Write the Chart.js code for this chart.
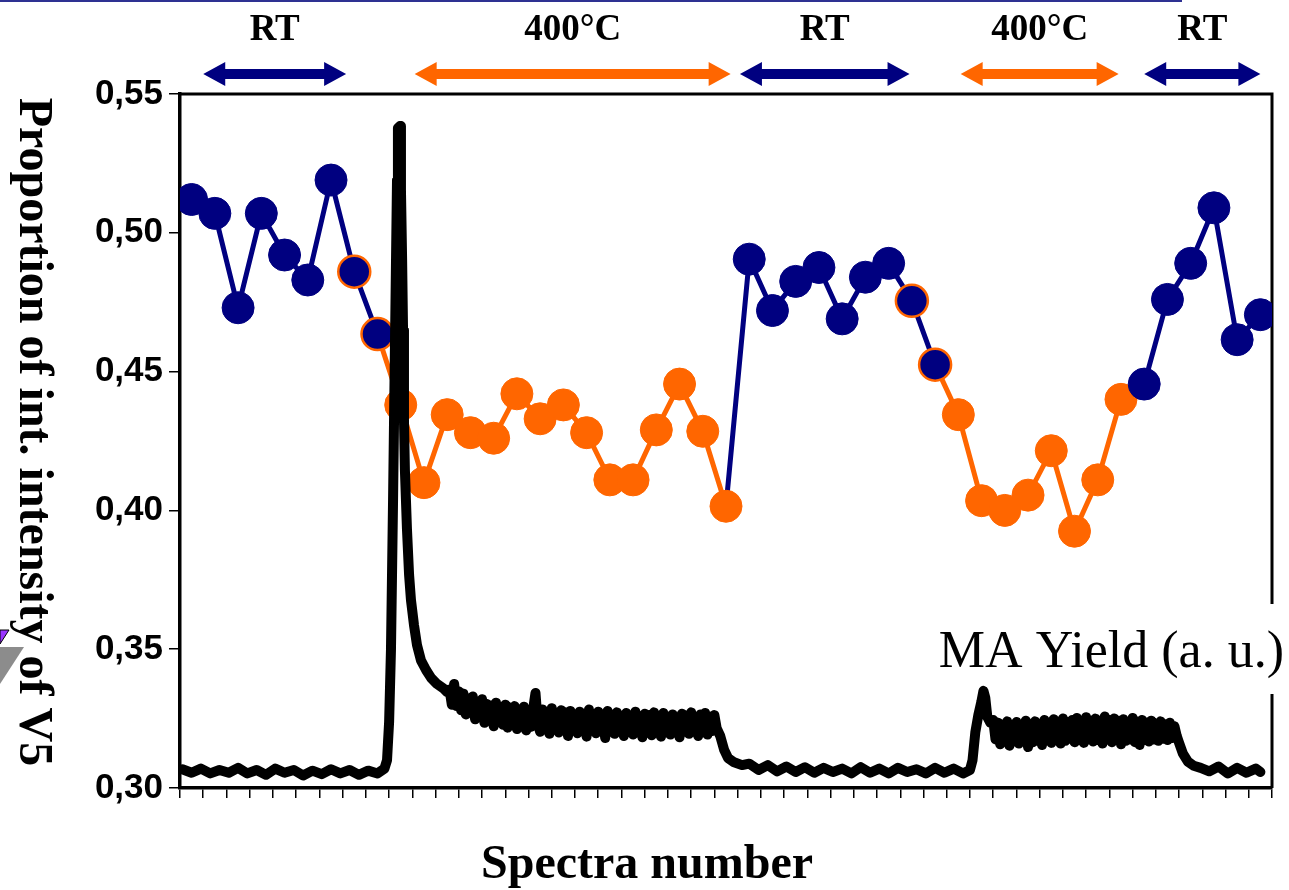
<!DOCTYPE html>
<html>
<head>
<meta charset="utf-8">
<script src="https://cdn.jsdelivr.net/npm/chart.js@4.4.1/dist/chart.umd.min.js"></script>
<style>
  html, body { margin: 0; padding: 0; background: #fff; }
  #wrap { width: 1289px; height: 890px; }
</style>
</head>
<body>
<div id="wrap"><canvas id="chart" width="1289" height="890"></canvas></div>
<script>
const NAVY = '#000080';
const ORANGE = '#ff6600';

// spectra and proportion of integrated intensity of V5
const spectra = [1, 2, 3, 4, 5, 6, 7, 8, 9, 10, 11, 12, 13, 14, 15, 16, 17, 18, 19, 20, 21, 22, 23, 24,
  25, 26, 27, 28, 29, 30, 31, 32, 33, 34, 35, 36, 37, 38, 39, 40, 41, 42, 43, 44, 45, 46, 47];
const proportion = [0.512, 0.507, 0.473, 0.507, 0.492, 0.483, 0.519, 0.486, 0.4635,
  0.438, 0.410, 0.4345, 0.428, 0.426, 0.442, 0.433, 0.438, 0.428, 0.411, 0.411, 0.429, 0.4455, 0.4285, 0.4015,
  0.4905, 0.472, 0.4825, 0.4875, 0.469, 0.484, 0.489, 0.4755, 0.4525,
  0.4345, 0.4035, 0.400, 0.4055, 0.4215, 0.3925, 0.411, 0.440,
  0.4455, 0.476, 0.489, 0.509, 0.4615, 0.4705];
const condition = ['RT', 'RT', 'RT', 'RT', 'RT', 'RT', 'RT', 'RT', 'RT',
  '400', '400', '400', '400', '400', '400', '400', '400', '400', '400', '400', '400', '400', '400', '400',
  'RT', 'RT', 'RT', 'RT', 'RT', 'RT', 'RT', 'RT', 'RT',
  '400', '400', '400', '400', '400', '400', '400', '400',
  'RT', 'RT', 'RT', 'RT', 'RT', 'RT'];
const outlined = [8, 9, 32, 33];

// MA yield trace (a. u.), position in spectra number
const maSpectrum = [
  0.6, 1.0, 1.4, 1.8, 2.2, 2.6, 3.0, 3.4, 3.8, 4.2, 4.6, 5.0, 5.4, 5.8, 6.2, 6.6, 7.0, 7.4, 7.8, 8.2, 8.6, 9.0, 9.3,
  9.41, 9.50, 9.58, 9.67, 9.76, 9.84, 9.88, 9.97, 10.01, 10.06, 10.10, 10.14, 10.18, 10.27, 10.36, 10.44, 10.57, 10.70, 10.87, 11.09, 11.30, 11.56, 11.82, 12.0,
  12.1, 12.2, 12.3, 12.4, 12.5, 12.6, 12.7, 12.8, 12.9, 13.0,
  13.1, 13.2, 13.3, 13.4, 13.5, 13.6, 13.7, 13.8, 13.9, 14.0,
  14.1, 14.2, 14.3, 14.4, 14.5, 14.6, 14.7, 14.8, 14.9, 15.0,
  15.1, 15.2, 15.3, 15.4, 15.5, 15.6, 15.7, 15.8, 15.9, 16.0,
  16.1, 16.2, 16.3, 16.4, 16.5, 16.6, 16.7, 16.8, 16.9, 17.0,
  17.1, 17.2, 17.3, 17.4, 17.5, 17.6, 17.7, 17.8, 17.9, 18.0,
  18.1, 18.2, 18.3, 18.4, 18.5, 18.6, 18.7, 18.8, 18.9, 19.0,
  19.1, 19.2, 19.3, 19.4, 19.5, 19.6, 19.7, 19.8, 19.9, 20.0,
  20.1, 20.2, 20.3, 20.4, 20.5, 20.6, 20.7, 20.8, 20.9, 21.0,
  21.1, 21.2, 21.3, 21.4, 21.5, 21.6, 21.7, 21.8, 21.9, 22.0,
  22.1, 22.2, 22.3, 22.4, 22.5, 22.6, 22.7, 22.8, 22.9, 23.0,
  23.1, 23.2, 23.3, 23.4, 23.5, 23.6,
  23.75, 23.92, 24.09, 24.35, 24.69,
  25.0, 25.4, 25.8, 26.2, 26.6, 27.0, 27.4, 27.8, 28.2, 28.6, 29.0, 29.4, 29.8, 30.2, 30.6, 31.0, 31.4, 31.8, 32.2, 32.6, 33.0, 33.4, 33.8, 34.2, 34.5,
  34.61, 34.73, 34.86, 34.99, 35.08, 35.16, 35.25, 35.38,
  35.5, 35.6, 35.7, 35.8, 35.9, 36.0, 36.1, 36.2, 36.3, 36.4,
  36.5, 36.6, 36.7, 36.8, 36.9, 37.0, 37.1, 37.2, 37.3, 37.4,
  37.5, 37.6, 37.7, 37.8, 37.9, 38.0, 38.1, 38.2, 38.3, 38.4,
  38.5, 38.6, 38.7, 38.8, 38.9, 39.0, 39.1, 39.2, 39.3, 39.4,
  39.5, 39.6, 39.7, 39.8, 39.9, 40.0, 40.1, 40.2, 40.3, 40.4,
  40.5, 40.6, 40.7, 40.8, 40.9, 41.0, 41.1, 41.2, 41.3, 41.4,
  41.5, 41.6, 41.7, 41.8, 41.9, 42.0, 42.1, 42.2, 42.3, 42.4,
  42.5, 42.6, 42.7, 42.8, 42.9, 43.0, 43.1, 43.2, 43.3, 43.4,
  43.49, 43.66, 43.88, 44.13, 44.43,
  44.8, 45.2, 45.6, 46.0, 46.4, 46.8, 47.0];
const maYield = [
  2.7, 2.2, 2.8, 2.1, 2.6, 2.2, 2.9, 2.1, 2.6, 1.9, 2.8, 2.2, 2.6, 1.8, 2.5, 2.0, 2.7, 2.1, 2.6, 1.9, 2.5, 2.1, 2.8,
  4.0, 9.5, 19.9, 41.5, 66.0, 87.6, 95.1, 95.4, 86.2, 76.1, 66.0, 53.0, 45.8, 37.2, 30.7, 27.1, 23.5, 20.6, 18.4, 17.0, 15.9, 15.0, 14.4, 13.8,
  14.2, 12.0, 15.0, 11.8, 13.9, 11.2, 13.6, 10.6, 12.9, 10.9,
  13.2, 9.9, 12.4, 10.2, 12.8, 9.4, 12.1, 10.0, 11.9, 8.9,
  12.3, 9.6, 11.4, 9.1, 12.0, 8.7, 11.6, 9.3, 11.8, 8.5,
  11.2, 9.0, 11.7, 8.3, 10.9, 8.8, 11.4, 13.7, 9.2, 8.1,
  11.3, 8.7, 10.8, 7.8, 11.5, 8.6, 10.6, 8.0, 11.2, 8.4,
  10.9, 7.5, 11.1, 8.5, 10.4, 7.9, 11.0, 8.2, 10.7, 7.4,
  11.3, 8.6, 10.5, 7.9, 11.0, 8.3, 10.3, 7.2, 11.1, 8.4,
  10.6, 7.8, 10.9, 8.1, 10.2, 7.5, 10.8, 8.3, 10.4, 7.7,
  11.0, 8.0, 10.1, 7.3, 10.7, 8.2, 10.5, 7.6, 10.9, 8.1,
  10.2, 7.4, 10.8, 8.0, 10.3, 7.7, 10.6, 8.3, 10.0, 7.3,
  10.7, 8.1, 10.4, 7.8, 10.9, 8.2, 10.1, 7.5, 10.6, 8.0,
  10.8, 7.7, 10.3, 8.2, 10.5, 8.6,
  7.5, 5.5, 4.3, 3.7, 3.3,
  3.5, 2.6, 3.3, 2.4, 3.1, 2.3, 3.0, 2.2, 2.9, 2.3, 2.8, 2.1, 3.0, 2.2, 2.8, 2.1, 2.9, 2.3, 2.7, 2.1, 2.9, 2.2, 2.8, 2.1, 2.6,
  4.0, 8.0, 10.5, 12.4, 14.0, 13.0, 10.2, 9.4,
  9.8, 7.0, 9.4, 6.3, 9.1, 6.8, 9.6, 6.1, 9.0, 6.7,
  9.5, 6.4, 8.9, 7.1, 9.7, 5.9, 9.2, 6.6, 9.6, 6.8,
  9.0, 6.2, 9.8, 6.9, 9.3, 6.5, 9.9, 7.0, 9.4, 6.4,
  10.0, 6.8, 9.5, 7.1, 9.8, 6.6, 10.1, 6.9, 9.6, 6.5,
  10.2, 7.0, 9.7, 6.7, 10.0, 6.9, 9.6, 6.4, 10.3, 7.1,
  9.8, 6.6, 10.0, 6.9, 9.7, 6.3, 9.9, 6.8, 9.5, 7.0,
  10.1, 6.6, 9.6, 6.2, 9.8, 6.9, 9.4, 6.7, 9.7, 7.0,
  9.3, 6.8, 9.6, 7.1, 9.2, 6.9, 9.4, 7.2, 8.9, 7.5,
  6.6, 5.0, 3.8, 3.2, 2.9,
  2.4, 3.1, 2.1, 2.9, 2.2, 2.8, 2.3];

// phases marked along the top
const phaseLabels = ['RT', '400°C', 'RT', '400°C', 'RT'];
const phaseFrom = [1.5, 10.6, 24.6, 34.1, 42.0];
const phaseTo = [7.65, 24.2, 31.9, 40.9, 47.0];

const yTicks = [0.30, 0.35, 0.40, 0.45, 0.50, 0.55];
const xEdges = [0.5, 1.5, 2.5, 3.5, 4.5, 5.5, 6.5, 7.5, 8.5, 9.5, 10.5, 11.5, 12.5, 13.5, 14.5, 15.5,
  16.5, 17.5, 18.5, 19.5, 20.5, 21.5, 22.5, 23.5, 24.5, 25.5, 26.5, 27.5, 28.5, 29.5, 30.5, 31.5,
  32.5, 33.5, 34.5, 35.5, 36.5, 37.5, 38.5, 39.5, 40.5, 41.5, 42.5, 43.5, 44.5, 45.5, 46.5, 47.5];

function arrow(ctx, x0, x1, y, color) {
  const head = 22, half = 12, shaft = 5;
  ctx.fillStyle = color;
  ctx.beginPath();
  ctx.moveTo(x0, y);
  ctx.lineTo(x0 + head, y - half);
  ctx.lineTo(x0 + head, y - shaft);
  ctx.lineTo(x1 - head, y - shaft);
  ctx.lineTo(x1 - head, y - half);
  ctx.lineTo(x1, y);
  ctx.lineTo(x1 - head, y + half);
  ctx.lineTo(x1 - head, y + shaft);
  ctx.lineTo(x0 + head, y + shaft);
  ctx.lineTo(x0 + head, y + half);
  ctx.closePath();
  ctx.fill();
}

const decor = {
  id: 'decor',
  beforeDraw(chart) {
    const ctx = chart.ctx;
    ctx.save();
    ctx.fillStyle = '#fff';
    ctx.fillRect(0, 0, chart.width, chart.height);
    ctx.restore();
  },
  beforeDatasetsDraw(chart) {
    const { ctx, chartArea: a } = chart;
    ctx.save();
    ctx.strokeStyle = '#000';
    ctx.lineWidth = 3;
    ctx.beginPath();
    ctx.moveTo(a.left, a.top);
    ctx.lineTo(a.right, a.top);
    ctx.lineTo(a.right, a.bottom);
    ctx.stroke();
    ctx.fillStyle = '#fff';
    ctx.fillRect(924, 604, 365, 90);
    ctx.fillStyle = '#000';
    ctx.font = '52px "Liberation Serif"';
    ctx.textAlign = 'right';
    ctx.textBaseline = 'alphabetic';
    ctx.fillText('MA Yield (a. u.)', 1284, 667);
    ctx.restore();
  },
  afterDraw(chart) {
    const { ctx, scales: { x } } = chart;
    ctx.save();
    // slide remnants
    ctx.fillStyle = '#2e3192';
    ctx.fillRect(0, 0, 1182, 2);
    ctx.fillStyle = '#9933ff';
    ctx.strokeStyle = '#000';
    ctx.lineWidth = 1;
    ctx.beginPath();
    ctx.moveTo(0, 630); ctx.lineTo(9, 630); ctx.lineTo(0, 644); ctx.closePath();
    ctx.fill(); ctx.stroke();
    ctx.fillStyle = '#8c8c8c';
    ctx.beginPath();
    ctx.moveTo(0, 647); ctx.lineTo(24, 647); ctx.lineTo(0, 684); ctx.closePath();
    ctx.fill();

    // phase arrows and labels
    ctx.textAlign = 'center';
    ctx.textBaseline = 'alphabetic';
    phaseLabels.forEach((lab, i) => {
      const x0 = x.getPixelForValue(phaseFrom[i]);
      const x1 = x.getPixelForValue(phaseTo[i]);
      arrow(ctx, x0, x1, 74, lab === 'RT' ? NAVY : ORANGE);
      ctx.fillStyle = '#000';
      ctx.font = 'bold 37px "Liberation Serif"';
      ctx.fillText(lab, (x0 + x1) / 2, 40);
    });

    // axis titles
    ctx.fillStyle = '#000';
    ctx.font = 'bold 48px "Liberation Serif"';
    ctx.fillText('Spectra number', 647, 878);
    ctx.translate(20, 432);
    ctx.rotate(Math.PI / 2);
    ctx.fillText('Proportion of int. intensity of V5', 0, 0);
    ctx.restore();
  }
};

new Chart(document.getElementById('chart'), {
  type: 'line',
  data: {
    datasets: [
      {
        label: 'MA Yield',
        data: maSpectrum.map((s, i) => ({ x: s, y: maYield[i] })),
        yAxisID: 'y2',
        borderColor: '#000',
        borderWidth: 10,
        borderJoinStyle: 'round',
        borderCapStyle: 'round',
        pointRadius: 0,
        tension: 0,
        order: 0
      },
      {
        label: 'Proportion of int. intensity of V5',
        data: spectra.map((s, i) => ({ x: s, y: proportion[i] })),
        yAxisID: 'y',
        borderColor: NAVY,
        borderWidth: 5,
        tension: 0,
        segment: {
          borderColor: c => condition[c.p1DataIndex] === 'RT' ? NAVY : ORANGE
        },
        pointRadius: 16,
        pointBackgroundColor: c => condition[c.dataIndex] === 'RT' ? NAVY : ORANGE,
        pointBorderColor: c => outlined.includes(spectra[c.dataIndex]) ? ORANGE
          : (condition[c.dataIndex] === 'RT' ? NAVY : ORANGE),
        pointBorderWidth: c => outlined.includes(spectra[c.dataIndex]) ? 2.5 : 1,
        order: 1
      }
    ]
  },
  options: {
    responsive: false,
    animation: false,
    devicePixelRatio: 1,
    layout: { padding: { top: 94, right: 16, bottom: 0, left: 0 } },
    plugins: { legend: { display: false }, tooltip: { enabled: false } },
    scales: {
      x: {
        type: 'linear',
        min: 0.5,
        max: 47.5,
        afterBuildTicks: axis => { axis.ticks = xEdges.map(v => ({ value: v })); },
        afterFit: axis => { axis.height = 102; },
        ticks: { autoSkip: false, callback: () => '' },
        grid: { drawOnChartArea: false, drawTicks: true, tickLength: 10, color: '#000', lineWidth: 1.5 },
        border: { display: true, color: '#000', width: 3.5 }
      },
      y: {
        min: 0.30,
        max: 0.55,
        afterBuildTicks: axis => { axis.ticks = yTicks.map(v => ({ value: v })); },
        afterFit: axis => { axis.width = 180; },
        ticks: {
          color: '#000',
          padding: 6,
          font: { family: '"Liberation Sans", Arial', size: 35, weight: 'bold' },
          callback: v => v.toFixed(2).replace('.', ',')
        },
        grid: { drawOnChartArea: false, drawTicks: true, tickLength: 11, color: '#000', lineWidth: 1.5 },
        border: { display: true, color: '#000', width: 3.5 }
      },
      y2: { display: false, min: 0, max: 100 }
    }
  },
  plugins: [decor]
});
</script>
</body>
</html>
